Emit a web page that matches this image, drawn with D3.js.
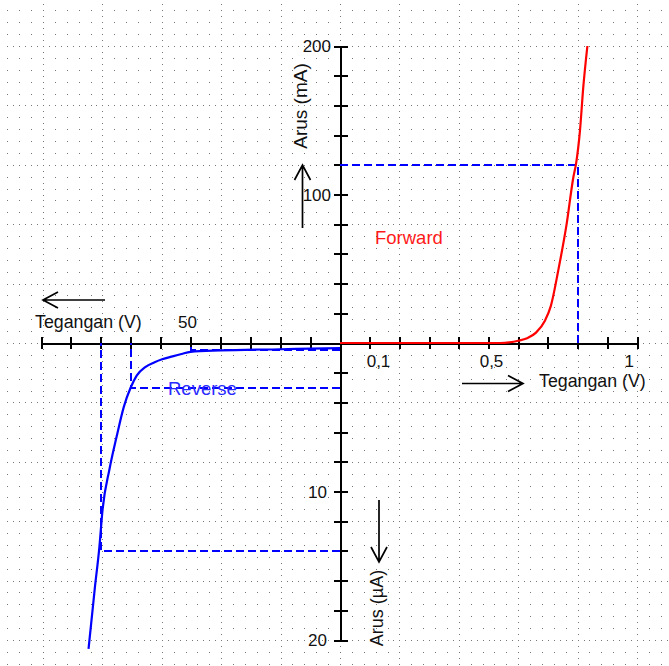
<!DOCTYPE html>
<html>
<head>
<meta charset="utf-8">
<script src="https://cdn.jsdelivr.net/npm/d3@7"></script>
<style>
  html, body { margin: 0; padding: 0; background: #fff; }
  svg { display: block; font-family: "Liberation Sans", Arial, sans-serif; }
</style>
</head>
<body>
<div id="chart"></div>
<script>
// forward characteristic: voltage (V) vs current (mA)
const forwardVolt = [0, 0.3, 0.54, 0.57, 0.6, 0.63, 0.66, 0.69, 0.71, 0.735, 0.763, 0.786, 0.795, 0.808, 0.819, 0.833]
const forwardAmp  = [0, 0, 0, 0.4, 1.5, 3.2, 7, 15, 25, 49, 80, 112, 121, 143, 172, 200]

// reverse characteristic: voltage (V) vs current (uA)
const reverseVolt = [0, 20, 40, 50, 53, 56, 59.5, 62, 65, 68, 70, 72.3, 74.7, 77.1, 79.4, 80.5, 82, 84.1]
const reverseAmp  = [0.35, 0.42, 0.5, 0.6, 0.74, 0.9, 1.1, 1.3, 1.6, 2.2, 3.0, 4.3, 6.3, 8.5, 11.2, 13.8, 16.5, 20.6]

// dashed reference points [V, current]
const forwardMarks = [[0.8, 120]]
const reverseMarks = [[50, 0.5], [70, 3], [80, 14]]

// ticks and labels
const forwardTicks = [0.1, 0.2, 0.3, 0.4, 0.5, 0.6, 0.7, 0.8, 0.9, 1]
const forwardLabelValues = [0.1, 0.5, 1]
const forwardLabelText = ['0,1', '0,5', '1']
const reverseTicks = [10, 20, 30, 40, 50, 60, 70, 80, 90, 100]
const reverseLabelValues = [50]
const reverseLabelText = ['50']
const mATicks = [20, 40, 60, 80, 100, 120, 140, 160, 180, 200]
const mALabelValues = [100, 200]
const uATicks = [2, 4, 6, 8, 10, 12, 14, 16, 18, 20]
const uALabelValues = [10, 20]

const W = 669, H = 666

const xF = d3.scaleLinear().domain([0, 1]).range([340, 637])
const xR = d3.scaleLinear().domain([0, 100]).range([340, 41])
const yF = d3.scaleLinear().domain([0, 200]).range([343, 46])
const yR = d3.scaleLinear().domain([0, 20]).range([343, 640])

const svg = d3.select('#chart').append('svg')
  .attr('width', W)
  .attr('height', H)

// dotted grid, aligned to the forward scales
const gx = 0.04, gy = 8
const cols = d3.range(Math.ceil(xF.invert(0) / gx), Math.floor(xF.invert(W) / gx) + 1)
const rows = d3.range(Math.ceil(yF.invert(H) / gy), Math.floor(yF.invert(0) / gy) + 1)
let dots = ''
const dot = (x, y) => {
  const px = Math.round(x), py = Math.round(y)
  if (px < 0 || px >= W || py < 0 || py >= H) return
  dots += 'M' + px + ',' + py + 'h1v1h-1z'
}
rows.forEach(r => {
  const y = yF(r * gy)
  cols.forEach(c => {
    dot(xF(c * gx), y)
    if (r % 5 === 0) dot(xF((c + 0.5) * gx), y)
  })
})
cols.filter(c => c % 5 === 0).forEach(c => {
  const x = xF(c * gx)
  rows.forEach(r => dot(x, yF((r + 0.5) * gy)))
})
svg.append('path')
  .attr('d', dots)
  .attr('fill', '#777')
  .attr('shape-rendering', 'crispEdges')

// axes
function styleAxis(g, a, b, horizontal) {
  g.attr('shape-rendering', 'crispEdges')
  g.select('.domain').attr('stroke', '#000').attr('stroke-width', 2)
  g.selectAll('.tick line')
    .attr('stroke', '#000')
    .attr('stroke-width', 2)
    .attr(horizontal ? 'y1' : 'x1', a)
    .attr(horizontal ? 'y2' : 'x2', b)
  g.selectAll('.tick text').remove()
}
svg.append('g').attr('transform', 'translate(0,343)')
  .call(d3.axisBottom(xF).tickValues(forwardTicks).tickSizeOuter(0))
  .call(g => styleAxis(g, -6, 6, true))
svg.append('g').attr('transform', 'translate(0,343)')
  .call(d3.axisBottom(xR).tickValues(reverseTicks).tickSizeOuter(0))
  .call(g => styleAxis(g, -6, 6, true))
svg.append('g').attr('transform', 'translate(340,0)')
  .call(d3.axisLeft(yF).tickValues(mATicks).tickSizeOuter(0))
  .call(g => styleAxis(g, -6, 8, false))
svg.append('g').attr('transform', 'translate(340,0)')
  .call(d3.axisLeft(yR).tickValues(uATicks).tickSizeOuter(0))
  .call(g => styleAxis(g, -6, 8, false))

// dashed guide lines
const dashed = svg.append('g')
  .attr('fill', 'none')
  .attr('stroke', '#0000ff')
  .attr('stroke-width', 2)
  .attr('stroke-dasharray', '8,4')
  .attr('shape-rendering', 'crispEdges')
dashed.selectAll('.fm').data(forwardMarks).join('path')
  .attr('d', d => 'M' + xF(0) + ',' + Math.round(yF(d[1])) + 'H' + Math.round(xF(d[0])) + 'V' + yF(0))
dashed.selectAll('.rm').data(reverseMarks).join('path')
  .attr('d', d => 'M' + xR(0) + ',' + Math.round(yR(d[1])) + 'H' + Math.round(xR(d[0])) + 'V' + yR(0))

// curves
const forwardData = forwardVolt.map((v, i) => [v, forwardAmp[i]])
const reverseData = reverseVolt.map((v, i) => [v, reverseAmp[i]]).reverse()

svg.append('path')
  .datum(forwardData)
  .attr('fill', 'none')
  .attr('stroke', '#ff0000')
  .attr('stroke-width', 2.2)
  .attr('d', d3.line().x(d => xF(d[0])).y(d => yF(d[1])).curve(d3.curveMonotoneX))

svg.append('path')
  .datum(reverseData)
  .attr('fill', 'none')
  .attr('stroke', '#0000ff')
  .attr('stroke-width', 2.2)
  .attr('d', d3.line().x(d => xR(d[0])).y(d => yR(d[1])).curve(d3.curveMonotoneX))

// tick labels
const txt = svg.append('g').attr('fill', '#111').attr('font-size', 17)
txt.selectAll('.fl').data(forwardLabelValues).join('text')
  .attr('x', (d, i) => xF(d) + (i === 0 ? -3 : i === forwardLabelValues.length - 1 ? -3 : 3))
  .attr('y', 367)
  .attr('text-anchor', (d, i) => i === 0 ? 'start' : i === forwardLabelValues.length - 1 ? 'end' : 'middle')
  .text((d, i) => forwardLabelText[i])
txt.selectAll('.rl').data(reverseLabelValues).join('text')
  .attr('x', d => xR(d) - 3)
  .attr('y', 328)
  .attr('text-anchor', 'middle')
  .text((d, i) => reverseLabelText[i])
txt.selectAll('.ml').data(mALabelValues).join('text')
  .attr('x', 331)
  .attr('y', d => yF(d) + 6)
  .attr('text-anchor', 'end')
  .text(d => d)
txt.selectAll('.ul').data(uALabelValues).join('text')
  .attr('x', 327)
  .attr('y', d => yR(d) + 6)
  .attr('text-anchor', 'end')
  .text(d => d)

// axis titles
const titles = svg.append('g').attr('fill', '#111').attr('font-size', 17.8)
titles.append('text').attr('x', 35).attr('y', 328).text('Tegangan (V)')
titles.append('text').attr('x', 539).attr('y', 387).text('Tegangan (V)')
titles.append('text')
  .attr('transform', 'translate(307,106) rotate(-90)')
  .attr('text-anchor', 'middle')
  .attr('font-size', 19)
  .text('Arus (mA)')
titles.append('text')
  .attr('transform', 'translate(383,608) rotate(-90)')
  .attr('text-anchor', 'middle')
  .attr('font-size', 18)
  .text('Arus (\u00b5A)')

svg.append('text').attr('x', 375).attr('y', 244)
  .attr('font-size', 18.5).attr('fill', '#ff1a1a').text('Forward')
svg.append('text').attr('x', 168).attr('y', 395)
  .attr('font-size', 18.5).attr('fill', '#2a2aff').text('Reverse')

// direction arrows
const arrows = [
  { tail: [105, 300], tip: [43, 300] },
  { tail: [302.5, 228], tip: [302.5, 165] },
  { tail: [379, 500], tip: [379, 562] },
  { tail: [462, 383.5], tip: [523, 383.5] }
]
svg.append('g')
  .attr('fill', 'none')
  .attr('stroke', '#000')
  .attr('stroke-width', 1.7)
  .selectAll('path').data(arrows).join('path')
  .attr('d', d => {
    const dx = d.tip[0] - d.tail[0], dy = d.tip[1] - d.tail[1]
    const len = Math.hypot(dx, dy), ux = dx / len, uy = dy / len
    const bx = d.tip[0] - ux * 15, by = d.tip[1] - uy * 15
    const w1 = [bx - uy * 8, by + ux * 8], w2 = [bx + uy * 8, by - ux * 8]
    return 'M' + d.tail + 'L' + d.tip + 'M' + w1 + 'L' + d.tip + 'L' + w2
  })
</script>
</body>
</html>
